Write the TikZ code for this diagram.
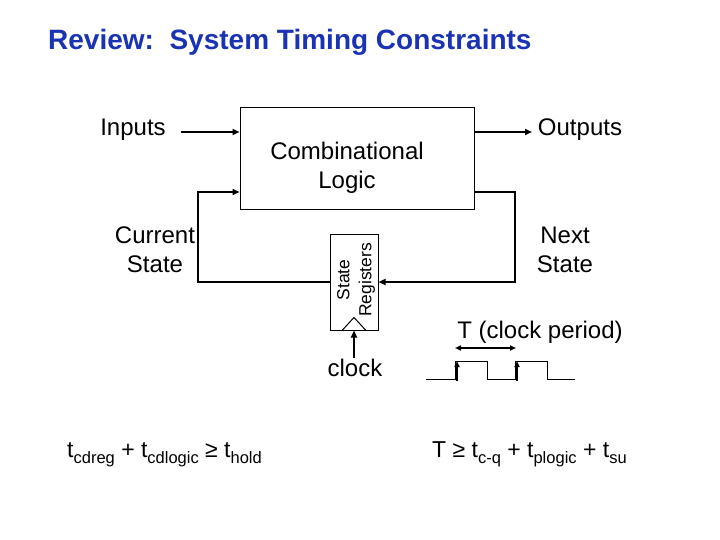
\documentclass[tikz,border=0pt]{standalone}
\usepackage{fontspec}
\setmainfont{Liberation Sans}
\usetikzlibrary{arrows.meta,calc}
\definecolor{titleblue}{RGB}{26,51,179}
\newcommand\sbs[1]{\raisebox{-0.28em}{\fontsize{16.5}{16.5}\selectfont #1}}
\begin{document}
\begin{tikzpicture}[x=1pt,y=-1pt,
  lbl/.style={font=\fontsize{24}{29}\selectfont, inner sep=0pt, align=center},
  conn/.style={line width=2pt, -{Triangle[length=7pt,width=6pt]}},
  thin/.style={line width=1pt},
  wave/.style={line width=1pt},
  warrow/.style={line width=1.5pt, -{Triangle[length=6pt,width=5pt]}},
]
\useasboundingbox (0,0) rectangle (720,540);

% title
\node[anchor=base west, inner sep=0pt, text=titleblue, font=\fontsize{28}{33}\selectfont\bfseries] (title) at (48,50) {Review:\ \ System Timing Constraints};

% blocks
\node[draw, thin, minimum width=234pt, minimum height=102pt, inner sep=0pt] (comb) at (357,159) {};
\node[lbl] (combtxt) at (347,168) {Combinational\\Logic};
\node[draw, thin, minimum width=48pt, minimum height=96pt, inner sep=0pt] (reg) at (354,282) {};
\node[rotate=90, inner sep=0pt, align=center, font=\fontsize{17.5}{22}\selectfont] (regtxt) at (356,280) {State\\Registers};
\draw[thin] ($(reg.south)+(-12,0)$) -- ++(12,-13) -- ++(12,13);

% labels
\node[lbl] (inputs) at (133,130) {Inputs};
\node[lbl] (outputs) at (580,130) {Outputs};
\node[lbl] (cur) at (155,250) {Current\\State};
\node[lbl] (next) at (565,250) {Next\\State};
\node[lbl] (clock) at (355,368) {clock};
\node[lbl] (period) at (540,332) {T (clock period)};

% connectors
\coordinate (inS) at (181,132);
\draw[conn] (inS) -- (inS -| comb.west);
\coordinate (outE) at (532,132);
\draw[conn] (outE -| comb.east) -- (outE);
\coordinate (csL) at (198,192);
\draw[conn] (reg.west) -| (csL) -- (csL -| comb.west);
\coordinate (nsR) at (515,192);
\draw[conn] (nsR -| comb.east) -- (nsR) |- (reg.east);
\coordinate (clk) at (354,358);
\draw[conn] (clk) -- (reg.south);

% clock waveform
\draw[wave] (426,379) -- (455,379) -- (455,361) -- (487,361) -- (487,379) -- (515,379) -- (515,361) -- (547,361) -- (547,379) -- (575,379);
\coordinate (e1) at (457,381);
\coordinate (e2) at (517,381);
\draw[warrow] (e1) -- ++(0,-20);
\draw[warrow] (e2) -- ++(0,-20);
\coordinate (pa) at (455,348);
\coordinate (pb) at (516,348);
\draw[line width=1.5pt, {Triangle[length=6pt,width=5pt]}-{Triangle[length=6pt,width=5pt]}] (pa) -- (pb);

% equations
\node[anchor=base west, inner sep=0pt, font=\fontsize{23}{27}\selectfont] (eqL) at (67,457) {t\sbs{cdreg} + t\sbs{cdlogic} ≥ t\sbs{hold}};
\node[anchor=base west, inner sep=0pt, font=\fontsize{23}{27}\selectfont] (eqR) at (432,457) {T ≥ t\sbs{c-q} + t\sbs{plogic} + t\sbs{su}};
\end{tikzpicture}
\end{document}
